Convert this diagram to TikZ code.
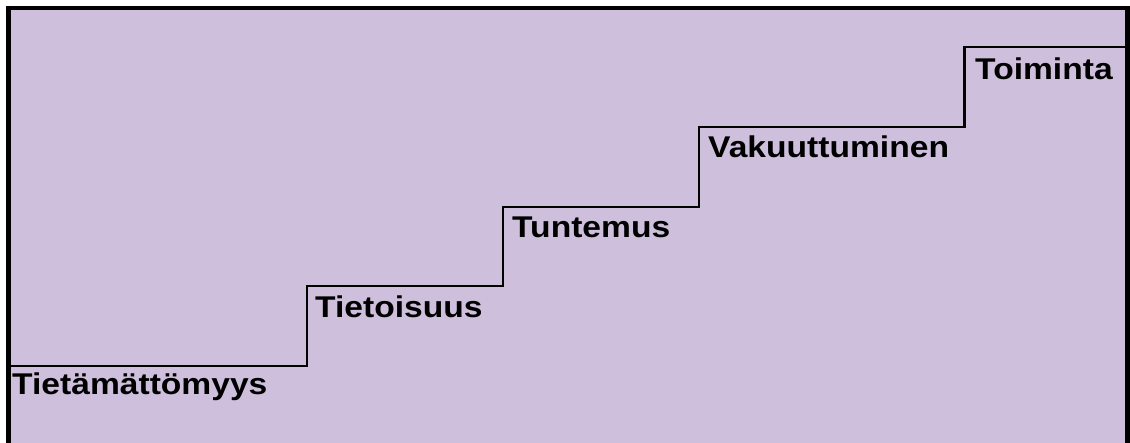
\documentclass[tikz,border=0pt]{standalone}
\usepackage{fontspec}
\newfontfamily\labfont[FakeStretch=1.12]{Liberation Sans}
\definecolor{bgpurple}{RGB}{206,192,220}
\begin{document}
\begin{tikzpicture}[x=1pt,y=-1pt,
  steplabel/.style={anchor=base west,inner sep=0pt,font=\labfont\bfseries\fontsize{30}{36}\selectfont,text=black},
  stairline/.style={draw=black,line width=2.6pt,line join=miter}]
\useasboundingbox (0,0) rectangle (1130,443);
\begin{scope}
\clip (0,0) rectangle (1130,443);
\fill[bgpurple] (8,8) rectangle (1128,450);
\draw[line width=4.5pt] (8.5,460) -- (8.5,8) -- (1127.5,8) -- (1127.5,460);
\draw[stairline] (8,366) -- (307,366) -- (307,286) -- (503,286) -- (503,207) -- (699,207) -- (699,127) -- (964.5,127) -- (964.5,47) -- (1126,47);
\end{scope}
\node[steplabel] (s1) at (12,395) {Tietämättömyys};
\node[steplabel] (s2) at (315,318) {Tietoisuus};
\node[steplabel] (s3) at (512,238) {Tuntemus};
\node[steplabel] (s4) at (708,158) {Vakuuttuminen};
\node[steplabel] (s5) at (975,80) {Toiminta};
\end{tikzpicture}
\end{document}
